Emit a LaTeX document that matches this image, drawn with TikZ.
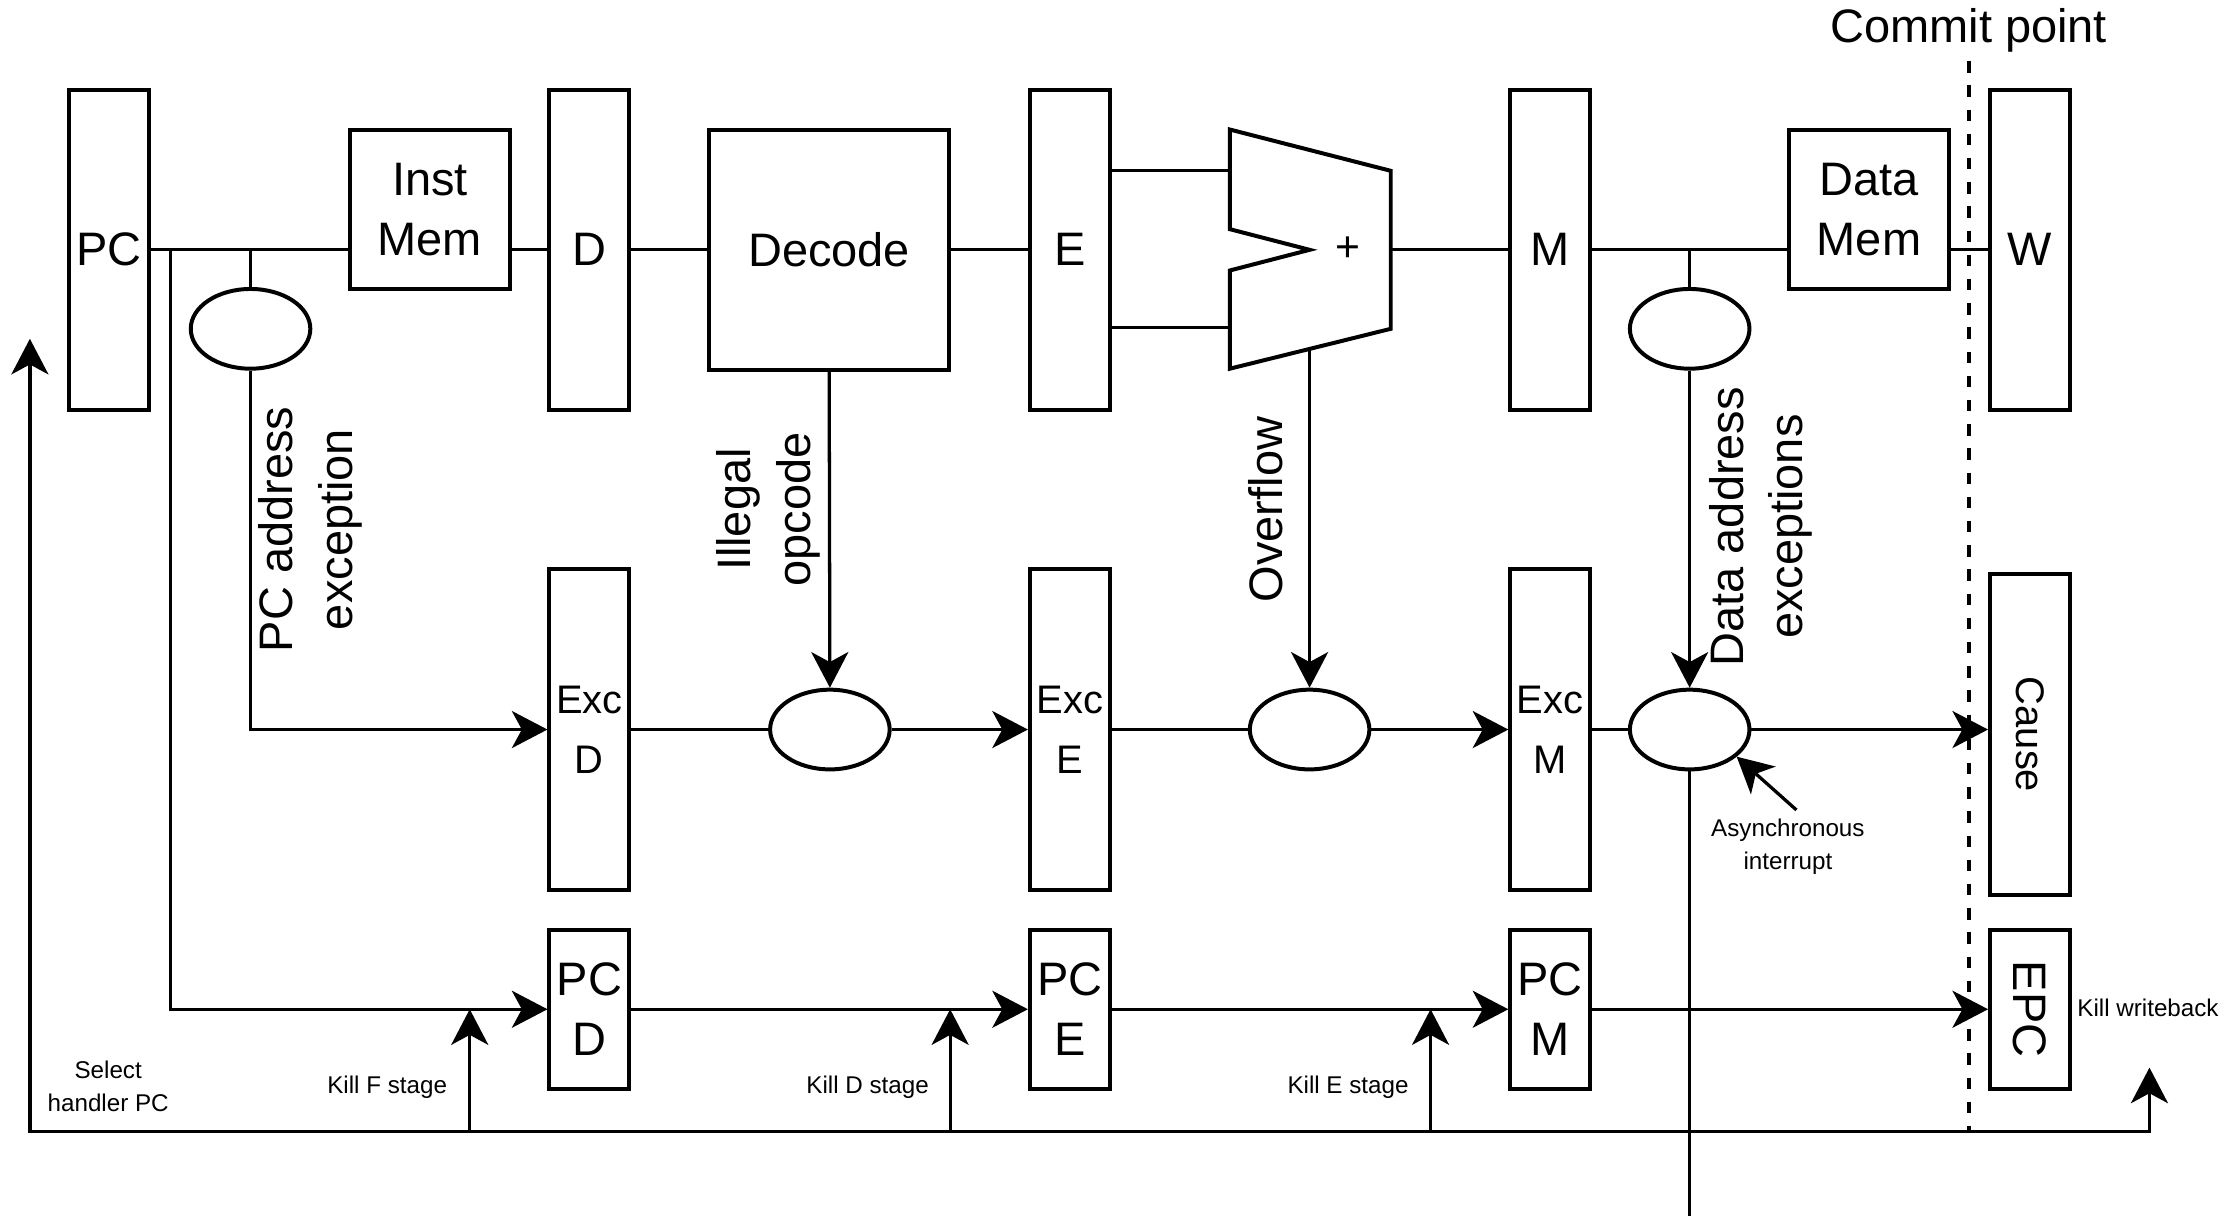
\documentclass[tikz,border=0pt]{standalone}
\usepackage{fontspec}
\setmainfont{Liberation Sans}
\usetikzlibrary{arrows.meta,shapes.geometric}

\begin{document}
\begin{tikzpicture}[x=1pt,y=-1pt,
  wire/.style={line width=2.3pt},
  tip/.tip={Stealth[length=25pt,width=26pt,inset=7pt]},
  arr/.style={wire,-tip},
  blk/.style={draw,line width=2.8pt,inner sep=0pt,align=center,font=\fontsize{33}{42}\selectfont},
  reg/.style={blk,minimum width=56pt,minimum height=225pt},
  exc/.style={blk,minimum width=56pt,minimum height=225pt,font=\fontsize{28}{42}\selectfont},
  pcr/.style={blk,minimum width=56pt,minimum height=112pt},
  mem/.style={blk,minimum width=112pt,minimum height=112pt},
  chk/.style={draw,ellipse,line width=2.8pt,minimum width=84pt,minimum height=56pt,inner sep=0pt},
  lbl/.style={align=center,font=\fontsize{33}{42}\selectfont,inner sep=0pt},
  note/.style={align=center,font=\fontsize{17}{23}\selectfont,inner sep=0pt},
]
\useasboundingbox (0,0) rectangle (1568,854);
\fill[white] (0,0) rectangle (1568,854);

% pipeline registers
\node[reg] (pc) at (76.5,175.5) {PC};
\node[reg] (rd) at (414,175.5) {D};
\node[reg] (re) at (751.5,175.5) {E};
\node[reg] (rm) at (1089,175.5) {M};
\node[reg] (rw) at (1426,175.5) {W};

% memories and decoder
\node[mem] (imem) at (302,147) {Inst\\Mem};
\node[mem] (dmem) at (1313,147) {Data\\Mem};
\node[blk,minimum width=169pt,minimum height=169pt] (dec) at (582.5,175.5) {Decode};

% adder
\coordinate (aluA) at (864,120);
\coordinate (aluB) at (864,230);
\coordinate (aluO) at (977,175.5);
\coordinate (aluV) at (920,245);
\draw[line width=2.8pt] (864,91) -- (977,120) -- (977,231) -- (864,259) -- (864,190) -- (920,175.5) -- (864,161) -- cycle;
\node[font=\fontsize{30}{30}\selectfont,inner sep=0pt] (plus) at (947,175) {+};

% exception registers
\node[exc] (xd) at (414,512.5) {Exc\\D};
\node[exc] (xe) at (751.5,512.5) {Exc\\E};
\node[exc] (xm) at (1089,512.5) {Exc\\M};
\node[reg] (cause) at (1426,516) {};
\node[lbl,rotate=-90,font=\fontsize{28}{28}\selectfont] (causeT) at (cause) {Cause};

% PC registers
\node[pcr] (pd) at (414,709) {PC\\D};
\node[pcr] (pe) at (751.5,709) {PC\\E};
\node[pcr] (pm) at (1089,709) {PC\\M};
\node[pcr] (epc) at (1426,709) {};
\node[lbl,rotate=-90] (epcT) at (epc) {EPC};

% exception checks
\node[chk] (c1) at (176,231) {};
\node[chk] (c2) at (583,512.5) {};
\node[chk] (c3) at (920,512.5) {};
\node[chk] (c4) at (1187,231) {};
\node[chk] (c5) at (1187,512.5) {};

% datapath
\draw[wire] (pc.east) -- (imem.west |- pc.east);
\draw[wire] (imem.east |- rd.west) -- (rd.west);
\draw[wire] (rd.east) -- (dec.west);
\draw[wire] (dec.east) -- (re.west);
\draw[wire] (re.east |- aluA) -- (aluA);
\draw[wire] (re.east |- aluB) -- (aluB);
\draw[wire] (aluO) -- (rm.west);
\draw[wire] (rm.east) -- (dmem.west |- rm.east);
\draw[wire] (dmem.east |- rw.west) -- (rw.west);

% taps off the datapath
\coordinate (j1) at (120,175.5);
\coordinate (j2) at (176,175.5);
\coordinate (j4) at (1187,175.5);
\draw[arr] (j1) |- (pd.west);
\draw[wire] (j2) -- (c1.north);
\draw[arr] (c1.south) |- (xd.west);
\draw[wire] (j4) -- (c4.north);
\draw[arr] (c4.south) -- (c5.north);
\draw[arr] (dec.south) -- (c2.north);
\draw[arr] (aluV) -- (c3.north);

% exception chain
\draw[wire] (xd.east) -- (c2.west);
\draw[arr] (c2.east) -- (xe.west);
\draw[wire] (xe.east) -- (c3.west);
\draw[arr] (c3.east) -- (xm.west);
\draw[wire] (xm.east) -- (c5.west);
\draw[arr] (c5.east) -- (c5.east -| cause.west);
\coordinate (sink) at (1187,854);
\draw[wire] (c5.south) -- (sink);
\coordinate (asyn) at (1262,569);
\draw[arr] (asyn) -- (c5.-30);

% PC chain
\draw[arr] (pd.east) -- (pe.west);
\draw[arr] (pe.east) -- (pm.west);
\draw[arr] (pm.east) -- (epc.west);

% kill / select bus
\coordinate (bl) at (21,795);
\coordinate (br) at (1510,795);
\coordinate (selTip) at (21,238);
\coordinate (kwTip) at (1510,750);
\draw[wire,tip-tip] (selTip) -- (bl) -- (br) -- (kwTip);
\coordinate (kf) at (330,795);
\coordinate (kd) at (667.5,795);
\coordinate (ke) at (1005,795);
\draw[arr] (kf) -- (kf |- pd.west);
\draw[arr] (kd) -- (kd |- pe.west);
\draw[arr] (ke) -- (ke |- pm.west);

% commit point
\coordinate (cpTop) at (1383,43);
\coordinate (cpBot) at (1383,795);
\draw[line width=2.6pt,dash pattern=on 8pt off 9pt] (cpTop) -- (cpBot);
\node[lbl] (cp) at (1383,21) {Commit point};

% signal labels
\node[lbl,rotate=90] (pcx) at (218,372) {PC address\\exception};
\node[lbl,rotate=90] (ill) at (540,358) {Illegal\\opcode};
\node[lbl,rotate=90] (ovf) at (889,358) {Overflow};
\node[lbl,rotate=90] (dax) at (1237,370) {Data address\\exceptions};

\node[note] (sel) at (76,763) {Select\\handler PC};
\node[note] (kfl) at (272,764) {Kill F stage};
\node[note] (kdl) at (609.5,764) {Kill D stage};
\node[note] (kel) at (947,764) {Kill E stage};
\node[note] (kwl) at (1509,708) {Kill writeback};
\node[note] (asl) at (1256,595) {Asynchronous\\interrupt};
\end{tikzpicture}
\end{document}
